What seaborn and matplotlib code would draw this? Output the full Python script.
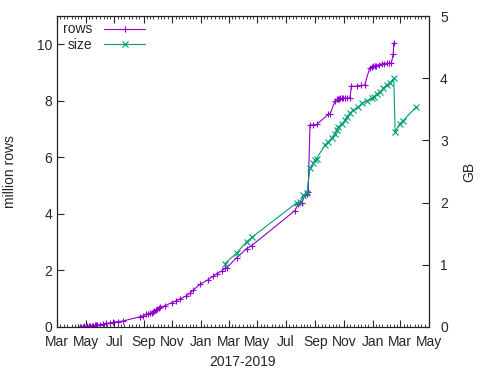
import matplotlib
matplotlib.use("Agg")
import matplotlib.pyplot as plt
import matplotlib.dates as mdates
import seaborn as sns
import pandas as pd

rows_dates = ["2017-04-15", "2017-04-19", "2017-04-22", "2017-04-25", "2017-04-28",
              "2017-05-01", "2017-05-04", "2017-05-07", "2017-05-10", "2017-05-14",
              "2017-05-17", "2017-05-20", "2017-05-23", "2017-05-26", "2017-05-31",
              "2017-06-06", "2017-06-14", "2017-06-21", "2017-06-28", "2017-07-08",
              "2017-07-19", "2017-08-24", "2017-08-31", "2017-09-07", "2017-09-11",
              "2017-09-14", "2017-09-18", "2017-09-21", "2017-09-24", "2017-09-27",
              "2017-09-30", "2017-10-03", "2017-10-06", "2017-10-16", "2017-10-31",
              "2017-11-10", "2017-11-17", "2017-12-01", "2017-12-08", "2017-12-15",
              "2017-12-30", "2018-01-17", "2018-01-27", "2018-02-04", "2018-02-14",
              "2018-02-21", "2018-02-25", "2018-03-18", "2018-04-08", "2018-04-19",
              "2018-07-20", "2018-07-27", "2018-08-03", "2018-08-10", "2018-08-14",
              "2018-08-17", "2018-08-21", "2018-08-28", "2018-09-04", "2018-09-29",
              "2018-10-03", "2018-10-13", "2018-10-17", "2018-10-19", "2018-10-21",
              "2018-10-24", "2018-10-27", "2018-10-31", "2018-11-03", "2018-11-08",
              "2018-11-14", "2018-11-17", "2018-11-28", "2018-12-08", "2018-12-15",
              "2018-12-26", "2018-12-30", "2019-01-02", "2019-01-06", "2019-01-09",
              "2019-01-14", "2019-01-20", "2019-01-25", "2019-01-31", "2019-02-05",
              "2019-02-10", "2019-02-14", "2019-02-15"]
rows_values = [0.0, 0.005, 0.01, 0.015, 0.02,
               0.025, 0.03, 0.035, 0.04, 0.045,
               0.05, 0.06, 0.065, 0.07, 0.08,
               0.10, 0.13, 0.14, 0.16, 0.19,
               0.21, 0.36, 0.40, 0.45, 0.47,
               0.48, 0.51, 0.54, 0.57, 0.60,
               0.64, 0.68, 0.70, 0.75, 0.86,
               0.93, 0.99, 1.10, 1.19, 1.30,
               1.51, 1.68, 1.80, 1.89, 1.98,
               2.08, 2.10, 2.45, 2.77, 2.88,
               4.12, 4.35, 4.38, 4.67, 4.71,
               4.76, 7.15, 7.15, 7.17, 7.52,
               7.55, 7.99, 8.05, 8.07, 8.08,
               8.09, 8.09, 8.10, 8.10, 8.10,
               8.11, 8.52, 8.52, 8.55, 8.55,
               9.17, 9.20, 9.23, 9.24, 9.25,
               9.28, 9.31, 9.32, 9.33, 9.33,
               9.34, 9.67, 10.05]

size_dates = ["2018-02-21", "2018-03-18", "2018-04-08", "2018-04-19", "2018-07-24",
              "2018-07-31", "2018-08-07", "2018-08-14", "2018-08-21", "2018-08-28",
              "2018-08-31", "2018-09-04", "2018-09-22", "2018-09-29", "2018-10-06",
              "2018-10-13", "2018-10-17", "2018-10-20", "2018-10-28", "2018-11-04",
              "2018-11-07", "2018-11-14", "2018-11-21", "2018-12-02", "2018-12-09",
              "2018-12-20", "2018-12-30", "2019-01-03", "2019-01-10", "2019-01-17",
              "2019-01-24", "2019-01-31", "2019-02-07", "2019-02-15", "2019-02-18",
              "2019-02-28", "2019-03-07", "2019-04-04"]
size_values = [1.02, 1.19, 1.37, 1.44, 2.00,
               2.01, 2.12, 2.15, 2.55, 2.63,
               2.68, 2.71, 2.93, 2.98, 3.04,
               3.11, 3.17, 3.22, 3.27, 3.33,
               3.38, 3.44, 3.49, 3.54, 3.60,
               3.64, 3.68, 3.70, 3.75, 3.78,
               3.84, 3.89, 3.93, 4.00, 3.14,
               3.27, 3.32, 3.54]

rows_df = pd.DataFrame({"date": pd.to_datetime(rows_dates), "value": rows_values})
size_df = pd.DataFrame({"date": pd.to_datetime(size_dates), "value": size_values})

sns.set_style("white")
plt.rcParams["font.family"] = ["Liberation Sans", "DejaVu Sans"]
plt.rcParams["font.size"] = 10

fig = plt.figure(figsize=(5, 3.75), dpi=100)
ax = fig.add_axes([0.114, 0.128, 0.744, 0.829])
ax2 = ax.twinx()

purple = "#9400D3"
green = "#009E73"

sns.lineplot(data=rows_df, x="date", y="value", ax=ax, color=purple, lw=0.8,
             marker="+", markersize=5, markeredgewidth=0.8, markeredgecolor=purple,
             label="rows", legend=False, estimator=None, sort=False)
sns.lineplot(data=size_df, x="date", y="value", ax=ax2, color=green, lw=0.8,
             marker="x", markersize=4.5, markeredgewidth=0.8, markeredgecolor=green,
             label="size", legend=False, estimator=None, sort=False)

ax.set_xlim(pd.Timestamp("2017-03-01"), pd.Timestamp("2019-05-01"))
ax.set_ylim(0, 11)
ax2.set_ylim(0, 5)
ax.set_yticks([0, 2, 4, 6, 8, 10])
ax2.set_yticks([0, 1, 2, 3, 4, 5])

ax.xaxis.set_major_locator(mdates.MonthLocator(bymonth=[1, 3, 5, 7, 9, 11]))
ax.xaxis.set_major_formatter(mdates.DateFormatter("%b"))
ax.xaxis.set_minor_locator(mdates.DayLocator(bymonthday=[1, 8, 15, 22]))

ax.set_xlabel("2017-2019")
ax.set_ylabel("million rows", labelpad=14)
ax2.set_ylabel("GB", labelpad=10)

ax.tick_params(axis="x", which="major", direction="in", length=5, width=0.8,
               top=True, bottom=True, labelsize=10, pad=6)
ax.tick_params(axis="x", which="minor", direction="in", length=2.5, width=0.6,
               top=True, bottom=True)
ax.tick_params(axis="y", which="major", direction="in", length=5, width=0.8,
               left=True, right=False, labelsize=10)
ax2.tick_params(axis="y", which="major", direction="in", length=5, width=0.8,
                right=True, left=False, labelsize=10, pad=8)

for a in (ax, ax2):
    for sp in a.spines.values():
        sp.set_visible(True)
        sp.set_color("#222222")
        sp.set_linewidth(0.8)

h1, l1 = ax.get_legend_handles_labels()
h2, l2 = ax2.get_legend_handles_labels()
ax.legend(h1 + h2, l1 + l2, loc="upper left", frameon=False, markerfirst=False,
          handlelength=3.0, borderaxespad=0.05, labelspacing=0.1,
          fontsize=10, handletextpad=0.8)

fig.savefig("out.png", dpi=100)
